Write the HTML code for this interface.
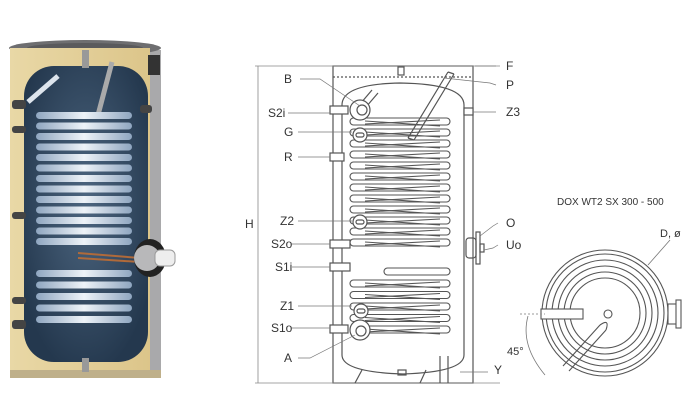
<!DOCTYPE html>
<html><head><meta charset="utf-8"><style>
html,body{margin:0;padding:0;background:#fff;}
svg{display:block;}
text{font-family:"Liberation Sans",sans-serif;fill:#333;}
</style></head><body>
<svg id="s" width="700" height="419" viewBox="0 0 700 419" xmlns="http://www.w3.org/2000/svg">
<defs>
<linearGradient id="ins" x1="0" x2="1"><stop offset="0" stop-color="#e9d8a6"/><stop offset="1" stop-color="#dcc58a"/></linearGradient>
<radialGradient id="tank" cx="0.5" cy="0.45" r="0.6"><stop offset="0" stop-color="#4d6680"/><stop offset="1" stop-color="#24384e"/></radialGradient>
<linearGradient id="coil" x1="0" x2="1"><stop offset="0" stop-color="#8fa6c0"/><stop offset="0.5" stop-color="#eef3f8"/><stop offset="1" stop-color="#8fa6c0"/></linearGradient>
</defs>
<!-- LEFT TANK -->
<rect x="148" y="50" width="13" height="328" fill="#a9a9ab"/>
<ellipse cx="85" cy="48" rx="76" ry="8" fill="#6e6e70"/>
<ellipse cx="85" cy="48" rx="58" ry="5" fill="#5a5a5c"/>
<rect x="10" y="48" width="140" height="330" fill="url(#ins)"/>
<rect x="148" y="55" width="12" height="20" fill="#333"/>
<rect x="10" y="370" width="151" height="8" fill="#bfb08a"/>
<rect x="24" y="66" width="124" height="296" rx="30" fill="url(#tank)"/>
<rect x="82" y="50" width="7" height="18" fill="#999"/>
<rect x="82" y="358" width="7" height="14" fill="#999"/>
<line x1="28" y1="102" x2="58" y2="76" stroke="#dde4ec" stroke-width="5"/>
<line x1="112" y1="62" x2="98" y2="115" stroke="#aaa" stroke-width="5"/>
<g id="lc"></g>
<line x1="78" y1="253" x2="140" y2="258" stroke="#b06a3a" stroke-width="2"/>
<line x1="78" y1="258" x2="140" y2="262" stroke="#b06a3a" stroke-width="2"/>
<ellipse cx="150" cy="258" rx="16" ry="19" fill="#222"/>
<circle cx="147" cy="258" r="13" fill="#b8b8ba"/>
<rect x="155" y="250" width="20" height="16" rx="5" fill="#eee" stroke="#999"/>
<g fill="#444"><rect x="12" y="100" width="14" height="9" rx="3"/><rect x="12" y="126" width="14" height="7" rx="3"/><rect x="12" y="212" width="14" height="7" rx="3"/><rect x="12" y="297" width="14" height="7" rx="3"/><rect x="12" y="320" width="14" height="9" rx="3"/><rect x="140" y="105" width="12" height="8" rx="3"/></g>

<!-- MIDDLE DIAGRAM -->
<g fill="none" stroke="#555" stroke-width="1.2">
<rect x="333" y="66" width="140" height="317"/>
<line x1="333" y1="77" x2="473" y2="77" stroke-dasharray="2,2"/>
<path d="M342,105 Q342,84 400,83 Q464,84 464,105 L464,355 Q464,372 403,374 Q342,372 342,355 Z"/>
<line x1="258" y1="66" x2="258" y2="383" stroke="#888" stroke-width="0.8"/>
<line x1="255" y1="66" x2="500" y2="66" stroke="#888" stroke-width="0.8"/>
<line x1="255" y1="383" x2="500" y2="383" stroke="#888" stroke-width="0.8"/>
<path d="M355,383 L362,370 M440,383 L440,356 M448,383 L448,356 M420,383 L426,370"/>
<rect x="398" y="67" width="6" height="8"/>
<path d="M408,138 L448,72 M414,140 L454,74 M408,138 L414,140 M448,72 L454,74" />
<path d="M355,110 L372,90 M360,114 L378,93"/>
<rect x="398" y="370" width="8" height="5"/>
<rect x="466" y="238" width="10" height="20" rx="3"/>
<rect x="476" y="232" width="4" height="32"/>
<rect x="480" y="244" width="4" height="8"/>
</g>
<g id="mc" fill="none" stroke="#555" stroke-width="1.1"></g>
<g fill="#fff" stroke="#555" stroke-width="1.2">
<rect x="330" y="106" width="18" height="8"/><rect x="330" y="153" width="14" height="8"/><rect x="330" y="240" width="20" height="8"/><rect x="330" y="263" width="20" height="8"/><rect x="330" y="325" width="18" height="8"/><rect x="464" y="108" width="9" height="7"/>
<circle cx="360" cy="110" r="10"/><circle cx="362" cy="110" r="5"/>
<circle cx="360" cy="135" r="7"/><rect x="356" y="133" width="8" height="4" rx="2"/>
<circle cx="360" cy="222" r="7"/><rect x="356" y="220" width="8" height="4" rx="2"/>
<circle cx="361" cy="311" r="7"/><rect x="357" y="309" width="8" height="4" rx="2"/>
<circle cx="360" cy="330" r="10"/><circle cx="361" cy="331" r="5"/>
</g>
<g stroke="#777" stroke-width="0.7" fill="none">
<path d="M300,79 L320,79 L360,106"/><path d="M288,113 L330,113"/><path d="M298,132 L352,132"/><path d="M298,157 L330,157"/><path d="M298,221 L352,221"/><path d="M292,244 L330,244"/><path d="M292,267 L330,267"/><path d="M298,306 L352,306"/><path d="M292,328 L330,328"/><path d="M298,358 L310,358 L355,335"/>
<path d="M496,66 L475,66"/><path d="M496,85 L490,83 L444,78"/><path d="M496,112 L473,112"/><path d="M498,223 L493,226 L480,236"/><path d="M498,245 L493,248 L484,250"/><path d="M488,372 L460,372"/>
</g>
<g font-size="12">
<text x="284" y="83">B</text><text x="268" y="117">S2i</text><text x="284" y="136">G</text><text x="284" y="161">R</text><text x="280" y="225">Z2</text><text x="271" y="248">S2o</text><text x="275" y="271">S1i</text><text x="280" y="310">Z1</text><text x="271" y="332">S1o</text><text x="284" y="362">A</text>
<text x="245" y="228">H</text>
<text x="506" y="70">F</text><text x="506" y="89">P</text><text x="506" y="116">Z3</text><text x="506" y="227">O</text><text x="506" y="249">Uo</text><text x="494" y="374">Y</text>
</g>

<!-- RIGHT VIEW -->
<text x="557" y="205" font-size="10">DOX WT2 SX 300 - 500</text>
<text x="660" y="237" font-size="11">D, ø</text>
<text x="507" y="355" font-size="11">45°</text>
<g fill="none" stroke="#555" stroke-width="1.1">
<circle cx="605" cy="313" r="63"/><circle cx="605" cy="313" r="59"/><circle cx="605" cy="313" r="53"/><circle cx="605" cy="313" r="47"/><circle cx="605" cy="313" r="41"/><circle cx="605" cy="313" r="35"/>
<circle cx="608" cy="314" r="4"/>
<rect x="541" y="309" width="42" height="10" fill="#fff"/>
<path d="M563,366 L600,325 M569,371 L606,330 M600,325 Q610,318 606,330"/>
<rect x="668" y="304" width="9" height="20" fill="#fff"/><rect x="676" y="300" width="5" height="28" fill="#fff"/>
<path d="M528,316 Q520,345 545,375" stroke="#777" stroke-width="0.8"/>
<line x1="520" y1="314" x2="545" y2="314" stroke="#999" stroke-dasharray="2,2"/>
<line x1="648" y1="265" x2="670" y2="240" stroke="#777" stroke-width="0.8"/>
</g>
</svg>
<script>
var ns="http://www.w3.org/2000/svg";
function el(p,t,a){var e=document.createElementNS(ns,t);for(var k in a)e.setAttribute(k,a[k]);p.appendChild(e);}
var lc=document.getElementById('lc');
for(var i=0;i<13;i++){var y=112+i*10.5;el(lc,'rect',{x:36,y:y,width:96,height:7,rx:3.5,fill:'url(#coil)'});}
for(var i=0;i<5;i++){var y=270+i*11.5;el(lc,'rect',{x:36,y:y,width:96,height:7,rx:3.5,fill:'url(#coil)'});}
var mc=document.getElementById('mc');
for(var i=0;i<12;i++){var y=118+i*11;el(mc,'rect',{x:350,y:y,width:100,height:7,rx:3.5});el(mc,'line',{x1:365,y1:y+3,x2:440,y2:y+8});el(mc,'line',{x1:365,y1:y+6,x2:440,y2:y+2});}
el(mc,'rect',{x:384,y:268,width:66,height:7,rx:3.5});
for(var i=0;i<5;i++){var y=280+i*11.5;el(mc,'rect',{x:350,y:y,width:100,height:7,rx:3.5});el(mc,'line',{x1:365,y1:y+3,x2:440,y2:y+8});el(mc,'line',{x1:365,y1:y+6,x2:440,y2:y+2});}
</script>
</body></html>
